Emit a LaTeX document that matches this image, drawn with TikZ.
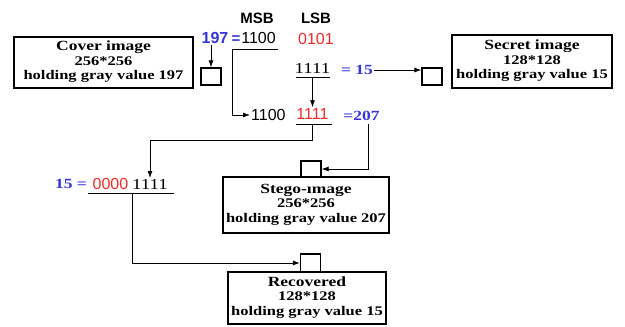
\documentclass[tikz,border=0pt]{standalone}
\usepackage{fontspec}
\setmainfont{Liberation Serif}
\setsansfont{Liberation Sans}
\usetikzlibrary{arrows.meta,positioning}
\definecolor{Blu}{HTML}{3535D8}
\definecolor{Rd}{HTML}{EE2A2A}
\newcommand\squash[1]{\scalebox{1}[0.8]{\fontsize{16}{18}\selectfont\begin{tabular}{@{}c@{}}#1\end{tabular}}}
\newcommand\imgtext[3]{\squash{{\fontsize{17.5}{18}\selectfont #1}\\{\fontsize{16.5}{16}\selectfont #2}\\{\fontsize{16.5}{18}\selectfont holding gray value #3}}}
\tikzset{
  imgbox/.style={draw,line width=2.4pt,inner sep=0pt,font=\bfseries},
  pix/.style={draw,line width=1.3pt,inner sep=0pt,minimum width=20pt,minimum height=17pt},
  head/.style={font=\sffamily\bfseries\fontsize{15}{15}\selectfont,inner sep=1pt},
  bits/.style={font=\sffamily\fontsize{16}{16}\selectfont,inner sep=1pt},
  sbits/.style={font=\fontsize{19}{19}\selectfont,inner sep=1pt,yscale=0.8},
  val/.style={font=\bfseries\fontsize{17.5}{17.5}\selectfont,text=Blu,inner sep=1pt,yscale=0.8},
  arr/.style={-{Latex[length=7pt,width=5pt]},line width=0.8pt},
  wire/.style={line width=0.8pt}
}
\begin{document}
\begin{tikzpicture}[x=1pt,y=-1pt]
\useasboundingbox (0,0) rectangle (625,327);
% image boxes
\node[imgbox,minimum width=179pt,minimum height=51pt] (cover) at (103.5,62.5) {\imgtext{Cover image}{256*256}{197}};
\node[imgbox,minimum width=160pt,minimum height=53pt] (secret) at (532,61.5) {\imgtext{Secret image}{128*128}{15}};
\node[imgbox,minimum width=166pt,minimum height=56pt] (stego) at (306,205) {\imgtext{Stego-ımage}{256*256}{207}};
\node[imgbox,minimum width=158pt,minimum height=52pt] (rec) at (307,298) {\imgtext{Recovered}{128*128}{15}};
% pixels
\node[pix] (coverSq) at (211,76.5) {};
\node[pix] (secretSq) at (432,76.5) {};
\node[pix,minimum height=16pt] (stegoSq) at (311,169) {};
\node[pix,minimum height=18pt] (recSq) at (310.5,263) {};
% bits
\node[head] (msb) at (257,18) {MSB};
\node[head] (lsb) at (316,18) {LSB};
\node[head,text=Blu,font=\sffamily\bfseries\fontsize{16}{16}\selectfont] (v197) at (215,38) {197};
\node[head,text=Blu] (eq) at (236,40) {=};
\node[bits] (hi1) at (258.5,38) {1100};
\node[bits,text=Rd] (lo1) at (316,39) {0101};
\node[sbits] (sec) at (312.5,68) {1111};
\node[val] (v15) at (357,70) {= 15};
\node[bits,anchor=west] (hi2) at (250,115) {1100};
\node[bits,text=Rd] (lo2) at (312.5,114) {1111};
\node[val] (v207) at (361.5,116) {=207};
\node[val] (r15) at (71,184) {15 =};
\node[bits,text=Rd] (r0000) at (110.5,184) {0000};
\node[sbits] (r1111) at (150,184) {1111};
% bars and junctions
\coordinate (barA) at (232,49.5);
\coordinate (barB) at (278,49.5);
\coordinate (barC) at (296,77);
\coordinate (barD) at (330,77);
\coordinate (barE) at (296,124);
\coordinate (barF) at (332,124);
\coordinate (bend) at (312,140);
\coordinate (j207) at (368,124);
\coordinate (barG) at (88,193);
\coordinate (barH) at (174,193);
\coordinate (jRec) at (132,193);
% connectors
\draw[arr] (coverSq.north |- v197.south) -- (coverSq.north);
\draw[wire] (barB) -- (barA);
\draw[arr] (barA) |- (hi2.west);
\draw[wire] (barC) -- (barD);
\draw[arr] (sec.south |- barC) -- (lo2.north);
\draw[arr] (v15.east) -- (v15.east -| secretSq.west);
\draw[wire] (barE) -- (barF);
\draw[arr] (bend |- barE) -- (bend) -| (r1111.north);
\draw[arr] (j207) |- (stegoSq.east);
\draw[wire] (barG) -- (barH);
\draw[arr] (jRec) |- (recSq.west);
\end{tikzpicture}
\end{document}
